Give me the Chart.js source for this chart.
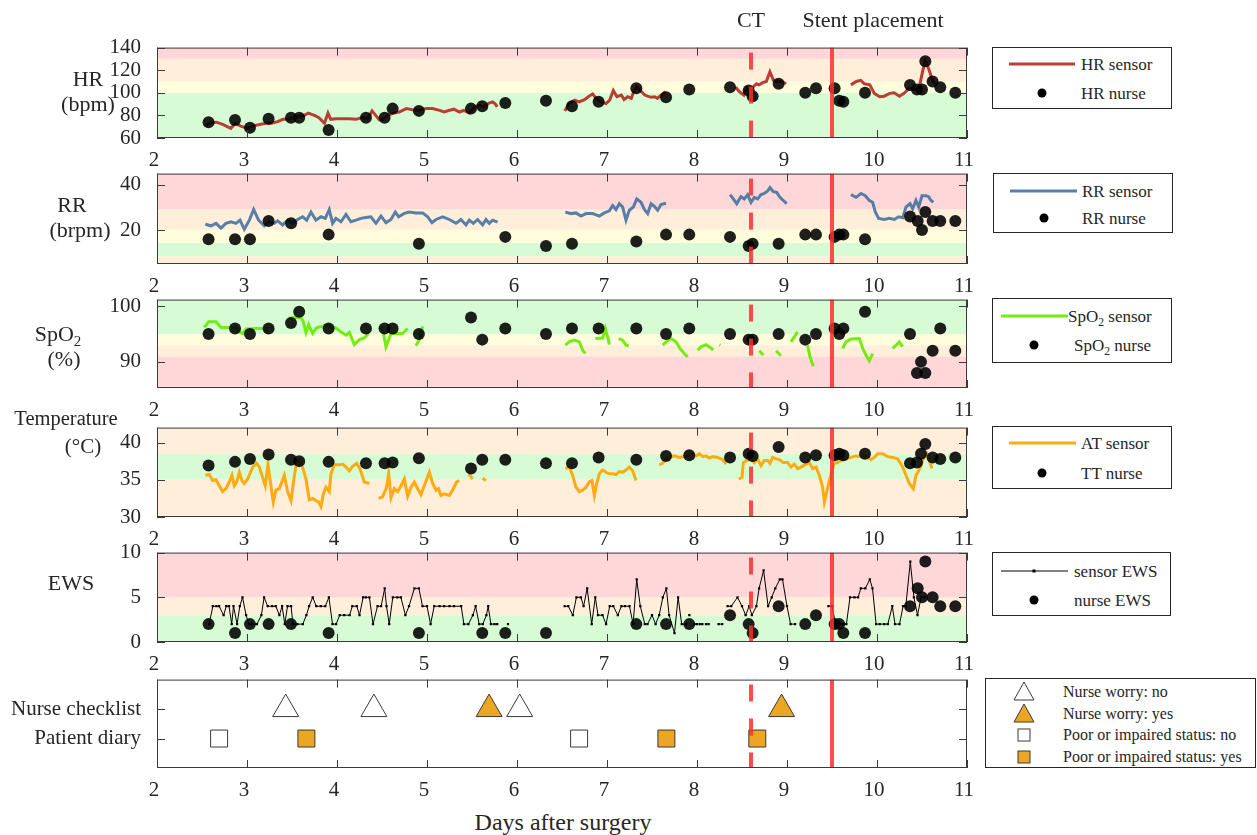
<!DOCTYPE html>
<html>
<head>
<meta charset="utf-8">
<title>Post-operative monitoring timeline</title>
<script src="https://cdn.jsdelivr.net/npm/chart.js@4.4.1/dist/chart.umd.min.js"></script>
<style>
  html, body { margin: 0; padding: 0; background: #fff; }
  body { position: relative; width: 1257px; height: 835px; overflow: hidden;
         font-family: "Liberation Serif", "Times New Roman", serif; color: #262626; }
  canvas { position: absolute; left: 0; }
  .ttl { position: absolute; white-space: nowrap; transform: translate(-50%, -50%); font-size: 21px; line-height: 1; }
  .lg { position: absolute; box-sizing: border-box; border: 1px solid #262626; background: #fff; }
  .lt { position: absolute; white-space: nowrap; transform: translateY(-50%); font-size: 17px; line-height: 1; }
  .ls { position: absolute; height: 3px; transform: translateY(-50%); }
  .ld { position: absolute; width: 9px; height: 9px; border-radius: 50%; background: #000; transform: translate(-50%, -50%); }
  .lm { position: absolute; transform: translate(-50%, -50%); }
  sub { font-size: 0.68em; vertical-align: -0.35em; line-height: 0; }
</style>
</head>
<body>
<script>
// ---------- time axis ----------
const X_MIN = 2, X_MAX = 11;
const xTicks = [2, 3, 4, 5, 6, 7, 8, 9, 10, 11];
const eventDays = [8.6, 9.5];
const eventNames = ['CT', 'Stent placement'];

// ---------- y ticks per panel ----------
const hrTicks = [60, 80, 100, 120, 140];
const rrTicks = [20, 40];
const spo2Ticks = [90, 100];
const tempTicks = [30, 35, 40];
const ewsTicks = [0, 5, 10];
const checkTicks = [1, 2];
const checkRows = ['', 'Patient diary', 'Nurse checklist'];

// ---------- warning bands: [level, from, to] (0 normal .. 3 high risk) ----------
const hrBands = [[0, 60, 100], [1, 100, 110], [2, 110, 130], [3, 130, 140]];
const rrBands = [[2, 5, 8.4], [0, 8.4, 14.4], [1, 14.4, 20.2], [2, 20.2, 29.2], [3, 29.2, 45]];
const spo2Bands = [[3, 85.3, 91], [2, 91, 93], [1, 93, 95], [0, 95, 101.2]];
const tempBands = [[2, 30, 35], [0, 35, 38.5], [2, 38.5, 42]];
const ewsBands = [[0, 0, 3], [2, 3, 5], [3, 5, 10]];

// ---------- nurse observations [day, value] ----------
const hrNurse = [[2.573,74],[2.867,76],[3.033,69],[3.24,77],[3.489,78],[3.58,78],[3.907,67],[4.322,78],[4.529,78],[4.618,86],[4.91,84],[5.489,86],[5.614,88],[5.87,91],[6.322,93],[6.611,88],[6.907,92],[7.326,104],[7.656,96],[7.914,103],[8.367,105],[8.574,102],[8.618,97],[8.907,108],[9.203,100],[9.322,104],[9.529,104],[9.581,93],[9.626,92],[9.867,100],[10.367,107],[10.444,103],[10.5,103],[10.537,128],[10.618,110],[10.703,105],[10.87,100]];
const rrNurse = [[2.573,16],[2.867,16],[3.033,16],[3.24,24],[3.49,23],[3.907,18],[4.91,14],[5.87,17],[6.322,13],[6.611,14],[7.326,15],[7.656,18],[7.914,18],[8.367,17],[8.574,13],[8.618,14],[8.907,14],[9.203,18],[9.322,18],[9.529,17],[9.581,18],[9.626,18],[9.867,16],[10.367,26],[10.452,24],[10.5,20],[10.537,28],[10.618,24],[10.703,24],[10.87,24]];
const spo2Nurse = [[2.573,95],[2.867,96],[3.033,95],[3.24,96],[3.489,97],[3.58,99],[3.907,96],[4.322,96],[4.529,96],[4.618,96],[4.91,95],[5.489,98],[5.614,94],[5.87,96],[6.322,95],[6.611,96],[6.907,96],[7.326,96],[7.656,95],[7.914,96],[8.367,95],[8.574,94],[8.618,94],[8.907,95],[9.203,94],[9.322,95],[9.529,96],[9.581,95],[9.626,96],[9.867,99],[10.367,95],[10.444,88],[10.489,90],[10.537,88],[10.618,92],[10.703,96],[10.87,92]];
const ttNurse = [[2.573,36.9],[2.867,37.4],[3.033,37.8],[3.24,38.4],[3.489,37.7],[3.58,37.5],[3.907,37.4],[4.322,37.2],[4.529,37.2],[4.618,37.3],[4.91,37.9],[5.489,36.5],[5.614,37.7],[5.87,37.7],[6.322,37.2],[6.611,37.2],[6.907,38],[7.326,37.7],[7.656,38.2],[7.914,38.3],[8.367,38],[8.574,38.5],[8.618,38.2],[8.907,39.4],[9.203,38],[9.322,38.3],[9.529,38.3],[9.581,38.5],[9.626,38.3],[9.867,38.5],[10.367,37.2],[10.444,37.3],[10.489,38.5],[10.537,39.8],[10.618,38],[10.703,37.8],[10.87,38]];
const ewsNurse = [[2.573,2],[2.867,1],[3.033,2],[3.24,2],[3.489,2],[3.907,1],[4.91,1],[5.614,1],[5.87,1],[6.322,1],[7.326,2],[7.656,2],[7.914,2],[8.367,3],[8.574,2],[8.618,1],[8.907,4],[9.203,2],[9.322,3],[9.529,2],[9.581,2],[9.626,1],[9.867,1],[10.367,4],[10.452,6],[10.5,5],[10.537,9],[10.618,5],[10.703,4],[10.87,4]];

// ---------- wearable sensor recordings, split where the signal was missing ----------
const hrSensor = [
  [[2.54,71],[2.60,73.5],[2.66,74],[2.73,72],[2.82,68.5],[2.87,73],[2.93,70.5],[3.01,68.5],[3.06,70.5],[3.14,72],[3.21,73],[3.27,73],[3.34,74.5],[3.40,76.5],[3.47,76.5],[3.54,79],[3.62,79.5],[3.68,82],[3.75,80],[3.80,78],[3.86,73],[3.90,82],[3.93,76.5],[3.99,77],[4.06,77],[4.14,77],[4.21,76.5],[4.28,78],[4.34,77],[4.39,84],[4.43,80],[4.47,76],[4.51,76.5],[4.56,80],[4.63,82],[4.69,83],[4.77,86],[4.84,85],[4.91,84.5],[4.99,86],[5.06,86],[5.14,84.5],[5.19,83],[5.25,84.5],[5.30,85.5],[5.36,83],[5.41,84.5],[5.47,82],[5.53,87.5],[5.58,89],[5.64,87.5],[5.69,91],[5.73,92],[5.76,90],[5.78,87.5]],
  [[6.53,84],[6.58,90.5],[6.64,93.5],[6.69,92],[6.75,94],[6.80,97],[6.84,99],[6.88,95],[6.93,92],[6.99,90.5],[7.03,93.5],[7.07,102],[7.11,96.5],[7.16,98],[7.19,94],[7.23,96.5],[7.27,95],[7.29,99.5],[7.33,105],[7.37,102],[7.42,98],[7.45,97],[7.49,96],[7.53,96.5],[7.56,95],[7.60,98],[7.65,101]],
  [[8.43,105],[8.47,101],[8.52,98],[8.55,104],[8.58,101],[8.62,105],[8.66,108],[8.69,107],[8.73,109],[8.77,110],[8.81,118.5],[8.85,111],[8.90,110],[8.94,110],[8.99,108]],
  [[9.71,107],[9.77,110],[9.82,111],[9.86,108],[9.92,107],[9.97,99.5],[10.03,96.5],[10.08,97],[10.14,99.5],[10.19,100],[10.25,97],[10.30,99.5],[10.36,104],[10.42,102.5],[10.47,105],[10.51,120],[10.537,128],[10.58,120],[10.62,110],[10.64,108]]
];
const rrSensor = [
  [[2.537,22.6],[2.6,21.9],[2.656,23],[2.711,20.9],[2.766,23],[2.822,23.7],[2.878,23],[2.922,24.4],[2.97,20.4],[3.026,24.4],[3.074,29.1],[3.129,24.4],[3.192,21.9],[3.248,23.7],[3.303,23],[3.34,24.1],[3.396,22.3],[3.452,24.4],[3.507,23],[3.563,24.7],[3.618,25.9],[3.663,24.4],[3.711,28],[3.766,24.4],[3.822,25.9],[3.87,25.2],[3.914,29.1],[3.951,23],[3.988,25.2],[4.044,23.7],[4.1,26.9],[4.155,23.7],[4.211,24.4],[4.266,25.2],[4.322,25.6],[4.377,25.9],[4.433,23],[4.489,26.2],[4.544,23.3],[4.6,24.7],[4.648,28],[4.685,25.9],[4.748,27.4],[4.803,28],[4.877,27.6],[4.951,27.6],[5.007,25.9],[5.055,23.3],[5.1,24.7],[5.174,25.9],[5.248,24.7],[5.322,23],[5.377,24.7],[5.433,22.3],[5.47,24.4],[5.514,23],[5.562,24.7],[5.618,22.3],[5.655,24.7],[5.692,23],[5.729,24.4],[5.784,23.5]],
  [[6.537,28],[6.6,27.3],[6.655,27.6],[6.711,26.2],[6.767,27.3],[6.841,27.3],[6.915,26.2],[6.97,27.6],[7.026,28.5],[7.063,30.9],[7.1,29.1],[7.137,31.7],[7.174,30.2],[7.211,24.4],[7.248,28.8],[7.293,30.2],[7.33,33.8],[7.378,32.3],[7.415,29.1],[7.452,27.3],[7.489,31.7],[7.526,30.5],[7.563,28.8],[7.6,31.3],[7.656,31.9]],
  [[8.367,35.7],[8.404,33.8],[8.441,31.7],[8.489,34.8],[8.526,33.8],[8.563,35.7],[8.6,32.3],[8.637,34.5],[8.674,33.8],[8.711,35.7],[8.748,36.2],[8.785,37.3],[8.811,38.8],[8.848,37],[8.885,36.7],[8.922,34.5],[8.959,33.1],[8.996,31.7]],
  [[9.711,35.7],[9.767,34.5],[9.822,36.2],[9.87,35.2],[9.915,33.1],[9.952,32.3],[9.981,28],[10.019,25.2],[10.081,24.7],[10.137,25.2],[10.193,24.7],[10.241,25.9],[10.285,25.5],[10.322,30.2],[10.367,31.7],[10.396,29.5],[10.433,33.1],[10.463,30.2],[10.5,35.2],[10.544,35.2],[10.574,34.8],[10.6,33.1],[10.626,32.3]]
];
const spo2Sensor = [
  [[2.526,96.2],[2.573,97.2],[2.656,97.2],[2.711,96.2],[2.878,96.2],[2.915,95.4],[2.952,95.1],[2.989,95.9],[3.1,96],[3.211,96],[3.218,95.1]],
  [[3.47,97.9],[3.544,98],[3.6,98],[3.626,97.2],[3.655,95.3],[3.685,96.7],[3.729,95.1],[3.766,96],[3.803,96.3],[3.84,96.3],[3.877,96.6],[3.933,96.3],[3.988,96.1],[4.044,95.4],[4.1,94.8],[4.137,95.3],[4.192,93.1],[4.248,94],[4.303,94.3],[4.351,95.1]],
  [[4.462,96.2],[4.507,96],[4.544,92.7],[4.6,95.1],[4.674,95.1],[4.729,95.1],[4.785,96]],
  [[4.877,92.9],[4.914,94],[4.951,96.4]],
  [[6.537,93],[6.581,93.6],[6.637,93.9],[6.692,93.6],[6.73,92.1],[6.759,91.5]],
  [[6.87,94.2],[6.952,94.3],[6.981,96],[7.007,94.5],[7.026,93.1]],
  [[7.13,94.2],[7.174,93.9],[7.211,93],[7.241,92.9]],
  [[7.619,93],[7.656,93.6],[7.711,94.2],[7.767,93.6],[7.811,92.4],[7.859,91.5],[7.896,90.9]],
  [[8.007,92.1],[8.044,92.7],[8.1,93.1],[8.155,92.5],[8.181,92.1]],
  [[8.25,93.1],[8.26,93]],
  [[8.692,92],[8.737,91.2]],
  [[8.878,92],[8.933,91.1]],
  [[9.044,93.6],[9.118,95.4]],
  [[9.229,93],[9.255,90.9],[9.292,89.2]],
  [[9.618,92.4],[9.655,93.6],[9.711,94.1],[9.804,94.2],[9.841,92.4],[9.878,91.2],[9.915,90.2],[9.952,91.5]],
  [[10.174,92.4],[10.218,93.1],[10.248,93.6],[10.285,92.7]]
];
const atSensor = [
  [[2.537,35.6],[2.581,35.7],[2.618,34.9],[2.656,35.0],[2.692,34.2],[2.729,33.4],[2.766,33.8],[2.803,34.7],[2.833,35.6],[2.859,34.2],[2.885,34.7],[2.915,36.0],[2.944,34.9],[2.97,34.5],[3.007,35.1],[3.063,36.7],[3.107,37.2],[3.137,36.7],[3.174,35.3],[3.203,34.2],[3.233,37.1],[3.255,35.1],[3.292,32.0],[3.322,33.6],[3.359,33.8],[3.415,35.6],[3.451,33.4],[3.489,32.2],[3.514,34.5],[3.544,36.9],[3.574,37.6],[3.618,36.7],[3.655,35.1],[3.692,32.3],[3.729,32.5],[3.766,32.2],[3.796,32.0],[3.822,31.4],[3.848,33.1],[3.877,34.0],[3.914,33.4],[3.933,35.8],[3.97,37.0],[4.026,37.0],[4.063,37.1],[4.1,36.7],[4.137,36.2],[4.174,36.8],[4.218,37.2],[4.255,36.5],[4.303,34.7],[4.359,34.5]],
  [[4.462,32.5],[4.507,32.7],[4.551,34.0],[4.574,35.9],[4.6,32.6],[4.637,33.8],[4.674,33.4],[4.711,34.2],[4.748,35.1],[4.785,32.8],[4.822,34.0],[4.859,34.7],[4.896,33.8],[4.933,33.0],[4.97,34.2],[5.026,36.0],[5.063,34.5],[5.1,33.6],[5.129,33.8],[5.155,32.9],[5.192,33.1],[5.248,32.9],[5.292,33.8],[5.329,34.7],[5.359,34.9]],
  [[5.463,35.8],[5.507,35.1]],
  [[5.618,35.2],[5.655,34.9]],
  [[6.537,36.5],[6.581,36.7],[6.618,35.6],[6.655,34.0],[6.692,33.4],[6.73,33.6],[6.767,34.0],[6.803,34.7],[6.833,34.9],[6.859,32.9],[6.885,34.5],[6.915,35.8],[6.952,36.3],[6.989,36.0],[7.026,35.8],[7.063,35.8],[7.1,35.7],[7.137,36.1],[7.174,36.0],[7.211,36.3],[7.248,36.7],[7.285,36.2],[7.322,34.9]],
  [[7.581,37.0],[7.618,37.2],[7.655,37.7],[7.692,38.0],[7.748,38.2],[7.803,38.0],[7.859,38.1],[7.915,38.3],[7.952,38.5],[7.989,38.2],[8.026,38.5],[8.063,38.1],[8.1,38.2],[8.137,37.9],[8.174,38.1],[8.229,38.0],[8.285,37.7],[8.322,37.1]],
  [[8.463,35.1],[8.5,35.3],[8.515,37.3],[8.552,37.6],[8.6,37.7],[8.637,37.3],[8.674,37.8],[8.711,36.9],[8.748,37.6],[8.785,37.6],[8.811,37.2],[8.841,38.0],[8.878,37.8],[8.915,37.7],[8.959,37.3],[9.007,37.3],[9.044,36.7],[9.081,37.1],[9.118,36.5],[9.155,36.7],[9.211,37.1],[9.248,37.3],[9.285,36.5],[9.322,36.7],[9.359,35.6],[9.396,34.0],[9.415,32.0],[9.433,32.9],[9.47,34.9],[9.5,36.2],[9.526,37.2],[9.563,37.3],[9.6,37.6],[9.655,37.8],[9.711,38.0],[9.767,38.2],[9.822,38.1],[9.878,38.2],[9.933,37.7],[9.97,38.0],[10.007,38.5],[10.063,38.5],[10.119,38.1],[10.174,38.0],[10.23,37.8],[10.285,36.7],[10.322,35.6],[10.359,34.5],[10.404,33.8],[10.433,35.6],[10.463,36.2],[10.489,36.9],[10.507,37.6],[10.526,38.1],[10.552,38.5],[10.581,37.6],[10.611,36.5]]
];
const ewsSensor = [
  [[2.58,2],[2.62,4],[2.66,4],[2.69,4],[2.74,3],[2.77,4],[2.80,4],[2.83,2],[2.85,4],[2.89,2],[2.92,4],[2.95,5],[2.99,3],[3.02,2],[3.06,2],[3.11,2],[3.16,3],[3.19,5],[3.23,4],[3.28,4],[3.32,4],[3.36,3],[3.39,4],[3.42,2],[3.45,4],[3.49,4],[3.51,2],[3.56,2],[3.62,2],[3.66,3],[3.69,4],[3.73,5],[3.77,4],[3.82,4],[3.87,4],[3.91,5],[3.95,2],[3.99,2],[4.03,3],[4.08,3],[4.14,3],[4.17,4],[4.22,4],[4.25,3],[4.29,5],[4.32,5],[4.36,5],[4.40,2],[4.45,4],[4.49,4],[4.53,6],[4.55,4],[4.58,2],[4.62,5],[4.67,5],[4.71,5],[4.76,3],[4.80,4],[4.86,6],[4.91,6],[4.95,4],[5.00,4],[5.04,2],[5.08,4],[5.14,4],[5.19,4],[5.25,4],[5.30,4],[5.38,4],[5.41,2],[5.46,2],[5.51,3],[5.54,4],[5.58,2],[5.62,2],[5.66,3],[5.68,4],[5.71,2],[5.75,2],[5.78,2]],
  [[5.90,2]],
  [[6.53,4],[6.57,4],[6.62,3],[6.66,5],[6.71,5],[6.74,4],[6.78,6],[6.83,2],[6.87,5],[6.90,3],[6.95,3],[6.99,2],[7.03,4],[7.07,4],[7.12,3],[7.16,4],[7.20,4],[7.25,4],[7.29,2],[7.33,7],[7.37,4],[7.42,2],[7.45,2],[7.50,3],[7.54,2],[7.58,3],[7.62,5],[7.66,6],[7.69,3],[7.75,1],[7.79,5],[7.83,2],[7.88,2]],
  [[7.915,3]],
  [[7.97,2],[8.00,2]],
  [[8.03,2],[8.06,2]],
  [[8.10,2],[8.13,2]],
  [[8.24,2],[8.28,2]],
  [[8.34,4],[8.38,4],[8.45,5],[8.50,4],[8.54,3],[8.58,4],[8.61,3],[8.66,4],[8.69,6],[8.74,8],[8.79,4],[8.83,5],[8.87,6],[8.92,7],[8.95,7],[9.00,4],[9.04,2],[9.09,2]],
  [[9.46,4],[9.50,4],[9.54,2],[9.58,2],[9.62,2],[9.66,2],[9.70,5],[9.75,5],[9.79,5],[9.82,6],[9.87,6],[9.92,7],[9.95,6],[9.99,2],[10.03,2],[10.08,2],[10.12,2],[10.17,4],[10.20,2],[10.25,2],[10.29,4],[10.32,4],[10.37,9],[10.41,5],[10.45,3],[10.49,5],[10.53,5]]
];

// ---------- checklist / diary entries [day, row] ----------
const worryNo = [[3.43,2],[4.41,2],[6.03,2]];
const worryYes = [[5.69,2],[8.94,2]];
const statusNo = [[2.69,1],[6.69,1]];
const statusYes = [[3.66,1],[7.66,1],[8.67,1]];

// ---------- styling ----------
const TEXT = '#262626';
const FONT = '"Liberation Serif", "Times New Roman", serif';
const bandFill = ['#d7fcd5', '#fffddc', '#ffeed9', '#ffd7d8'];
const HR_COLOR = 'rgba(178,36,30,0.88)';
const RR_COLOR = 'rgba(64,112,160,0.88)';
const SPO2_COLOR = 'rgba(104,236,0,0.92)';
const AT_COLOR = 'rgba(255,164,0,0.92)';
const DOT_COLOR = 'rgba(0,0,0,0.88)';
const EVENT_COLOR = 'rgba(255,45,45,0.85)';
const GOLD = '#eba623';

const toPoints = arr => arr.map(([x, y]) => ({ x, y }));
function toLine(segments) {
  const out = [];
  segments.forEach((seg, i) => {
    if (i > 0) {
      const prev = segments[i - 1];
      out.push({ x: (prev[prev.length - 1][0] + seg[0][0]) / 2, y: null });
    }
    seg.forEach(([x, y]) => out.push({ x, y }));
  });
  return out;
}
const sensorSet = (segs, color) => ({ data: toLine(segs), borderColor: color, borderWidth: 3, pointRadius: 0, showLine: true, spanGaps: false, tension: 0, order: 2 });
const nurseSet = (pts) => ({ data: toPoints(pts), showLine: false, pointRadius: 6, pointBackgroundColor: DOT_COLOR, pointBorderWidth: 0, order: 1 });
const markerSet = (pts, style, radius, fill) => ({ data: toPoints(pts), showLine: false, pointStyle: style, pointRadius: radius, pointBackgroundColor: fill, pointBorderColor: '#3a3a3a', pointBorderWidth: 1, order: 1 });

// bands behind the data, event markers, box frame and inward ticks on top
const panelDecor = {
  id: 'panelDecor',
  beforeDatasetsDraw(chart, args, opts) {
    const { ctx, chartArea: a, scales: { y } } = chart;
    ctx.save();
    ctx.beginPath(); ctx.rect(a.left, a.top, a.right - a.left, a.bottom - a.top); ctx.clip();
    (opts.bands || []).forEach(([lvl, lo, hi]) => {
      const y1 = y.getPixelForValue(hi), y2 = y.getPixelForValue(lo);
      ctx.fillStyle = bandFill[lvl];
      ctx.fillRect(a.left, y1, a.right - a.left, y2 - y1);
    });
    ctx.restore();
  },
  afterDatasetsDraw(chart) {
    const { ctx, chartArea: a, scales: { x, y } } = chart;
    ctx.save();
    ctx.beginPath(); ctx.rect(a.left, a.top, a.right - a.left, a.bottom - a.top); ctx.clip();
    eventDays.forEach((d, i) => {
      const px = x.getPixelForValue(d);
      ctx.strokeStyle = EVENT_COLOR; ctx.lineWidth = 4;
      ctx.setLineDash(i === 0 ? [17, 17] : []);
      ctx.lineDashOffset = i === 0 ? 29 : 0;
      ctx.beginPath(); ctx.moveTo(px, a.top); ctx.lineTo(px, a.bottom); ctx.stroke();
    });
    ctx.restore();
    ctx.save();
    ctx.strokeStyle = '#3a3a3a'; ctx.lineWidth = 1; ctx.setLineDash([]);
    ctx.strokeRect(a.left + 0.5, a.top + 0.5, a.right - a.left - 1, a.bottom - a.top - 1);
    ctx.beginPath();
    x.ticks.forEach(t => {
      const px = Math.round(x.getPixelForValue(t.value)) + 0.5;
      ctx.moveTo(px, a.bottom); ctx.lineTo(px, a.bottom - 8);
      ctx.moveTo(px, a.top); ctx.lineTo(px, a.top + 8);
    });
    y.ticks.forEach(t => {
      const py = Math.round(y.getPixelForValue(t.value)) + 0.5;
      ctx.moveTo(a.left, py); ctx.lineTo(a.left + 8, py);
      ctx.moveTo(a.right, py); ctx.lineTo(a.right - 8, py);
    });
    ctx.stroke();
    ctx.restore();
  }
};

const tickFont = { family: FONT, size: 21 };
const panels = [
  { top: 47, height: 91, yMin: 60, yMax: 140, yTicks: hrTicks, bands: hrBands,
    datasets: [nurseSet(hrNurse), sensorSet(hrSensor, HR_COLOR)] },
  { top: 173, height: 91, yMin: 5, yMax: 45, yTicks: rrTicks, bands: rrBands,
    datasets: [nurseSet(rrNurse), sensorSet(rrSensor, RR_COLOR)] },
  { top: 299, height: 89, yMin: 85.3, yMax: 101.2, yTicks: spo2Ticks, bands: spo2Bands,
    datasets: [nurseSet(spo2Nurse), sensorSet(spo2Sensor, SPO2_COLOR)] },
  { top: 427, height: 90, yMin: 30, yMax: 42, yTicks: tempTicks, bands: tempBands,
    datasets: [nurseSet(ttNurse), sensorSet(atSensor, AT_COLOR)] },
  { top: 552, height: 90, yMin: 0, yMax: 10, yTicks: ewsTicks, bands: ewsBands,
    datasets: [nurseSet(ewsNurse),
      { data: toLine(ewsSensor), borderColor: '#000', borderWidth: 1, showLine: true, spanGaps: false, tension: 0,
        pointStyle: 'rect', pointRadius: 1.6, pointBackgroundColor: '#000', pointBorderWidth: 0, order: 2 }] },
  { top: 679, height: 89, yMin: 0, yMax: 3, yTicks: checkTicks, bands: [], yLabel: v => checkRows[v] || '',
    datasets: [markerSet(worryNo, 'triangle', 15, '#ffffff'), markerSet(worryYes, 'triangle', 15, GOLD),
               markerSet(statusNo, 'rect', 12, '#ffffff'), markerSet(statusYes, 'rect', 12, GOLD)] }
];

const charts = panels.map(p => {
  const cv = document.createElement('canvas');
  cv.width = 990; cv.height = p.height + 50;
  cv.style.top = (p.top - 20) + 'px';
  document.body.appendChild(cv);
  return new Chart(cv, {
    type: 'line',
    data: { datasets: p.datasets },
    options: {
      responsive: false, animation: false, devicePixelRatio: 1, events: [],
      layout: { padding: { top: 20, right: 23, left: 0, bottom: 0 } },
      plugins: { legend: { display: false }, tooltip: { enabled: false }, panelDecor: { bands: p.bands } },
      scales: {
        x: { type: 'linear', min: X_MIN, max: X_MAX,
             grid: { display: false }, border: { display: false },
             afterBuildTicks: s => { s.ticks = xTicks.map(v => ({ value: v })); },
             afterFit: s => { s.height = 30; },
             ticks: { font: tickFont, color: TEXT, padding: 2, labelOffset: -3, maxRotation: 0, autoSkip: false, callback: v => String(v) } },
        y: { type: 'linear', min: p.yMin, max: p.yMax,
             grid: { display: false }, border: { display: false },
             afterBuildTicks: s => { s.ticks = p.yTicks.map(v => ({ value: v })); },
             afterFit: s => { s.width = 157; },
             ticks: { font: tickFont, color: TEXT, padding: 8, autoSkip: false, callback: p.yLabel || (v => String(v)) } }
      }
    },
    plugins: [panelDecor]
  });
});

// ---------- text around the panels ----------
function addText(html, cx, cy, size) {
  const d = document.createElement('div');
  d.className = 'ttl';
  d.innerHTML = html;
  d.style.left = cx + 'px'; d.style.top = cy + 'px';
  if (size) d.style.fontSize = size + 'px';
  document.body.appendChild(d);
}
addText('HR', 88, 79, 22); addText('(bpm)', 88, 104, 22);
addText('RR', 72, 205, 22); addText('(brpm)', 80, 230, 22);
addText('SpO<sub>2</sub>', 58, 334, 22); addText('(%)', 64, 359, 22);
addText('Temperature', 66, 418, 20.5); addText('(°C)', 83, 446, 21);
addText('EWS', 71, 583, 22);
addText('Days after surgery', 563, 822, 24);

const topX = charts[0].scales.x;
addText(eventNames[0], topX.getPixelForValue(eventDays[0]), 20, 22);
addText(eventNames[1], topX.getPixelForValue(eventDays[1]) + 41, 20, 22);

// ---------- legends ----------
function legend(left, top, w, h, inner) {
  const d = document.createElement('div');
  d.className = 'lg';
  Object.assign(d.style, { left: left + 'px', top: top + 'px', width: w + 'px', height: h + 'px' });
  d.innerHTML = inner;
  document.body.appendChild(d);
}
const lineSample = (x, y, w, color) => `<div class="ls" style="left:${x}px;top:${y}px;width:${w}px;background:${color}"></div>`;
const dotSample = (x, y) => `<div class="ld" style="left:${x}px;top:${y}px"></div>`;
const label = (x, y, html, size) => `<div class="lt" style="left:${x}px;top:${y}px${size ? ';font-size:' + size + 'px' : ''}">${html}</div>`;

legend(992, 47, 180, 62, lineSample(16, 16, 66, HR_COLOR) + label(88, 16, 'HR sensor') + dotSample(49, 45) + label(88, 45, 'HR nurse'));
legend(993, 173, 180, 60, lineSample(16, 17, 67, RR_COLOR) + label(88, 17, 'RR sensor') + dotSample(50, 44) + label(88, 44, 'RR nurse'));
legend(992, 298, 180, 65, lineSample(8, 17, 67, SPO2_COLOR) + label(75, 17, 'SpO<sub>2</sub> sensor') + dotSample(41, 46) + label(81, 46, 'SpO<sub>2</sub> nurse'));
legend(992, 426, 180, 63, lineSample(16, 16, 67, AT_COLOR) + label(88, 16, 'AT sensor') + dotSample(49, 46) + label(88, 46, 'TT nurse'));
legend(992, 552, 179, 64,
  `<div class="ls" style="left:8px;top:18px;width:67px;height:1px;background:#000"></div>` +
  `<div class="lm" style="left:41px;top:18px;width:3px;height:3px;background:#000"></div>` +
  label(81, 18, 'sensor EWS') + dotSample(41, 47) + label(81, 47, 'nurse EWS'));

const tri = fill => `<svg width="22" height="20" viewBox="0 0 22 20"><polygon points="11,1 21,19 1,19" fill="${fill}" stroke="#3a3a3a" stroke-width="1"/></svg>`;
const sq = fill => `<svg width="14" height="14" viewBox="0 0 14 14"><rect x="1" y="1" width="12" height="12" fill="${fill}" stroke="#3a3a3a" stroke-width="1"/></svg>`;
const marker = (x, y, svg) => `<div class="lm" style="left:${x}px;top:${y}px;line-height:0">${svg}</div>`;
legend(985, 678, 271, 90,
  marker(38, 12, tri('#ffffff')) + label(77, 13, 'Nurse worry: no', 16) +
  marker(38, 34, tri(GOLD)) + label(77, 35, 'Nurse worry: yes', 16) +
  marker(38, 56, sq('#ffffff')) + label(77, 56, 'Poor or impaired status: no', 16) +
  marker(38, 78, sq(GOLD)) + label(77, 78, 'Poor or impaired status: yes', 16));
</script>
</body>
</html>
